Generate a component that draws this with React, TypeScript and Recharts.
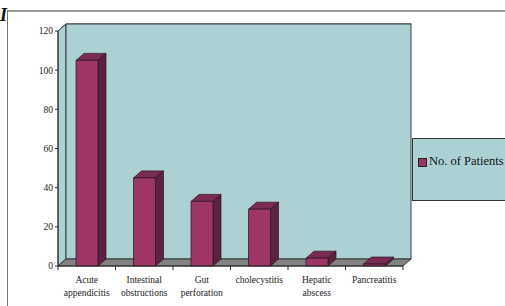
import React from "react";
import { BarChart, Bar, XAxis, YAxis, CartesianGrid, ReferenceArea, Legend } from "recharts";

const categories = [
  "Acute appendicitis",
  "Intestinal obstructions",
  "Gut perforation",
  "cholecystitis",
  "Hepatic abscess",
  "Pancreatitis",
];
const patients = [105, 45, 33, 29, 4, 1];
const yTicks = [0, 20, 40, 60, 80, 100, 120];
const seriesName = "No. of Patients";

const data = categories.map((name, i) => ({ name, patients: patients[i] }));

// depth of the fake 3D effect
const DX = 8;
const DY = -7;
const WALL = "#abd1d5";
const FLOOR = "#828282";
const EDGE = "#2e2e2e";

const Wall = (props: any) => {
  const { x, y, width: w, height: h } = props;
  const b = y + h;
  return (
    <g stroke={EDGE} strokeWidth={0.9}>
      <polygon points={`${x},${b} ${x},${y} ${x + DX},${y + DY} ${x + DX},${b + DY}`} fill={WALL} />
      <rect x={x + DX} y={y + DY} width={w} height={h} fill={WALL} />
      <polygon points={`${x},${b} ${x + DX},${b + DY} ${x + w + DX},${b + DY} ${x + w},${b}`} fill={FLOOR} />
    </g>
  );
};

const gridLine = (p: any) => {
  const { x1, y1, x2, y2 } = p;
  return (
    <g key={p.key} stroke={EDGE} strokeWidth={0.9}>
      <line x1={x1} y1={y1} x2={x1 + DX} y2={y1 + DY} />
      <line x1={x1 + DX} y1={y1 + DY} x2={x2 + DX} y2={y2 + DY} />
    </g>
  );
};

const Bar3D = (props: any) => {
  const { x, y, width: w, height: h } = props;
  if (h == null || w == null) return null;
  return (
    <g stroke="#2a1320" strokeWidth={0.7} strokeLinejoin="round">
      <polygon points={`${x},${y} ${x + DX},${y + DY} ${x + w + DX},${y + DY} ${x + w},${y}`} fill="#7a2b52" />
      <polygon points={`${x + w},${y} ${x + w + DX},${y + DY} ${x + w + DX},${y + h + DY} ${x + w},${y + h}`} fill="#5a2440" />
      <rect x={x} y={y} width={w} height={h} fill="#9d3667" />
    </g>
  );
};

const CatTick = (props: any) => {
  const { x, y, payload, index } = props;
  const off = payload.offset ?? 28.75;
  const words = String(payload.value).split(" ");
  return (
    <g>
      <line x1={x - off} y1={y} x2={x - off} y2={y + 4} stroke={EDGE} />
      {index === categories.length - 1 && <line x1={x + off} y1={y} x2={x + off} y2={y + 4} stroke={EDGE} />}
      {words.map((wd, i) => (
        <text key={i} x={x} y={y + 17 + i * 13} textAnchor="middle" fontSize={9.5} fill="#1a1a1a">
          {wd}
        </text>
      ))}
    </g>
  );
};

const LegendBox = () => (
  <div
    style={{
      position: "relative",
      width: 110,
      height: 63,
      boxSizing: "border-box",
      background: WALL,
      border: "1px solid #333",
    }}
  >
    <span
      style={{
        position: "absolute",
        left: 5,
        top: 19,
        width: 7,
        height: 7,
        background: "#9d3667",
        border: "1px solid #222",
      }}
    />
    <span
      style={{
        position: "absolute",
        left: 16,
        top: 14,
        fontSize: 12.5,
        lineHeight: "16px",
        color: "#111",
        whiteSpace: "nowrap",
      }}
    >
      {seriesName}
    </span>
  </div>
);

export default function App() {
  return (
    <div
      style={{
        position: "relative",
        width: 505,
        height: 306,
        overflow: "hidden",
        background: "#fff",
        fontFamily: "'Liberation Serif', 'Times New Roman', serif",
      }}
    >
      <style>{"body{margin:0}"}</style>
      <div
        style={{
          position: "absolute",
          left: 7,
          top: 10,
          width: 600,
          height: 400,
          borderTop: "2px solid #9a9a9a",
          borderLeft: "1.5px solid #777",
        }}
      />
      <div
        style={{
          position: "absolute",
          left: 0,
          top: 5,
          fontSize: 18,
          lineHeight: "20px",
          fontWeight: "bold",
          fontStyle: "italic",
          color: "#111",
        }}
      >
        I
      </div>
      <div style={{ position: "absolute", left: 0, top: 0 }}>
        <BarChart
          width={505}
          height={306}
          data={data}
          margin={{ top: 31, right: 102, bottom: 0, left: 0 }}
          barSize={22}
        >
          <ReferenceArea y1={0} y2={120} shape={<Wall />} ifOverflow="visible" />
          <CartesianGrid vertical={false} horizontal={gridLine} />
          <XAxis
            dataKey="name"
            height={40}
            interval={0}
            tickLine={false}
            tickSize={0}
            tickMargin={0}
            axisLine={{ stroke: EDGE }}
            tick={<CatTick />}
          />
          <YAxis
            domain={[0, 120]}
            ticks={yTicks}
            interval={0}
            width={58}
            tickSize={3}
            axisLine={{ stroke: EDGE }}
            tickLine={{ stroke: EDGE }}
            tick={{ fontSize: 9.5, fill: "#1a1a1a" }}
          />
          <Legend
            layout="horizontal"
            align="center"
            verticalAlign="middle"
            wrapperStyle={{ left: 412, top: 138, width: 110, height: 63 }}
            content={() => <LegendBox />}
          />
          <Bar dataKey="patients" name={seriesName} shape={<Bar3D />} isAnimationActive={false} />
        </BarChart>
      </div>
    </div>
  );
}
